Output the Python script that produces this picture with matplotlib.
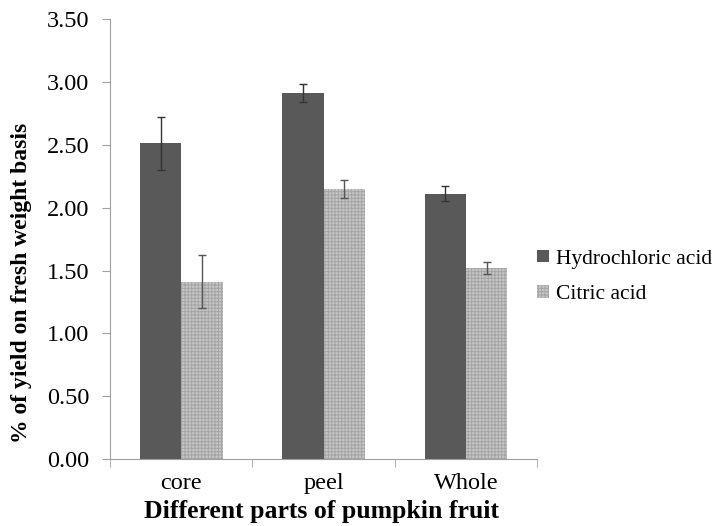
import numpy as np
import matplotlib
matplotlib.use("Agg")
import matplotlib.pyplot as plt

# Data
parts = ["core", "peel", "Whole"]
hcl = [2.51, 2.91, 2.11]
hcl_err = [0.21, 0.07, 0.06]
citric = [1.41, 2.15, 1.52]
citric_err = [0.21, 0.07, 0.05]
y_ticks = [0.0, 0.5, 1.0, 1.5, 2.0, 2.5, 3.0, 3.5]

plt.rcParams["font.family"] = ["Liberation Serif", "DejaVu Serif"]
plt.rcParams["hatch.linewidth"] = 0.7

fig = plt.figure(figsize=(7.2, 5.26), dpi=100)
ax = fig.add_axes([0.153, 0.127, 0.593, 0.837])

x = np.arange(len(parts))
w = 0.29
ax.bar(x - w / 2, hcl, w, color="#595959", label="Hydrochloric acid")
ax.bar(x + w / 2, citric, w, facecolor="#c6c6c6", hatch="+++++", edgecolor="#a4a4a4",
       linewidth=0, label="Citric acid")
ax.errorbar(x - w / 2, hcl, yerr=hcl_err, fmt="none", ecolor="#333333",
            elinewidth=1, capsize=3)
ax.errorbar(x + w / 2, citric, yerr=citric_err, fmt="none", ecolor="#555555",
            elinewidth=1, capsize=3)

ax.set_xlim(-0.5, len(parts) - 0.5)
ax.set_ylim(0, 3.5)
ax.set_yticks(y_ticks)
ax.set_yticklabels([f"{v:.2f}" for v in y_ticks], fontsize=17.5)
ax.set_xticks(x)
ax.set_xticklabels(parts, fontsize=17.5)
ax.set_xticks(np.arange(len(parts) + 1) - 0.5, minor=True)
ax.tick_params(axis="x", which="major", length=0, pad=10)
ax.tick_params(axis="x", which="minor", length=6, color="#a0a0a0", direction="out")
ax.tick_params(axis="y", length=6, color="#a0a0a0", direction="out", pad=9)

for s in ["top", "right"]:
    ax.spines[s].set_visible(False)
for s in ["left", "bottom"]:
    ax.spines[s].set_color("#a0a0a0")

fig.text(22 / 720, 0.5 - 20 / 526, "% of yield on fresh weight basis", rotation=90,
         fontsize=17, fontweight="bold", ha="center", va="center")
fig.text(322 / 720, 8 / 526, "Different parts of pumpkin fruit", fontsize=18.5,
         fontweight="bold", ha="center", va="baseline")

fig.legend(loc="center left", bbox_to_anchor=(537 / 720, 0.474), frameon=False, fontsize=15.5,
           handlelength=0.55, handleheight=0.55, handletextpad=0.35, labelspacing=0.75,
           borderpad=0, borderaxespad=0)

fig.savefig("out.png", dpi=100)
